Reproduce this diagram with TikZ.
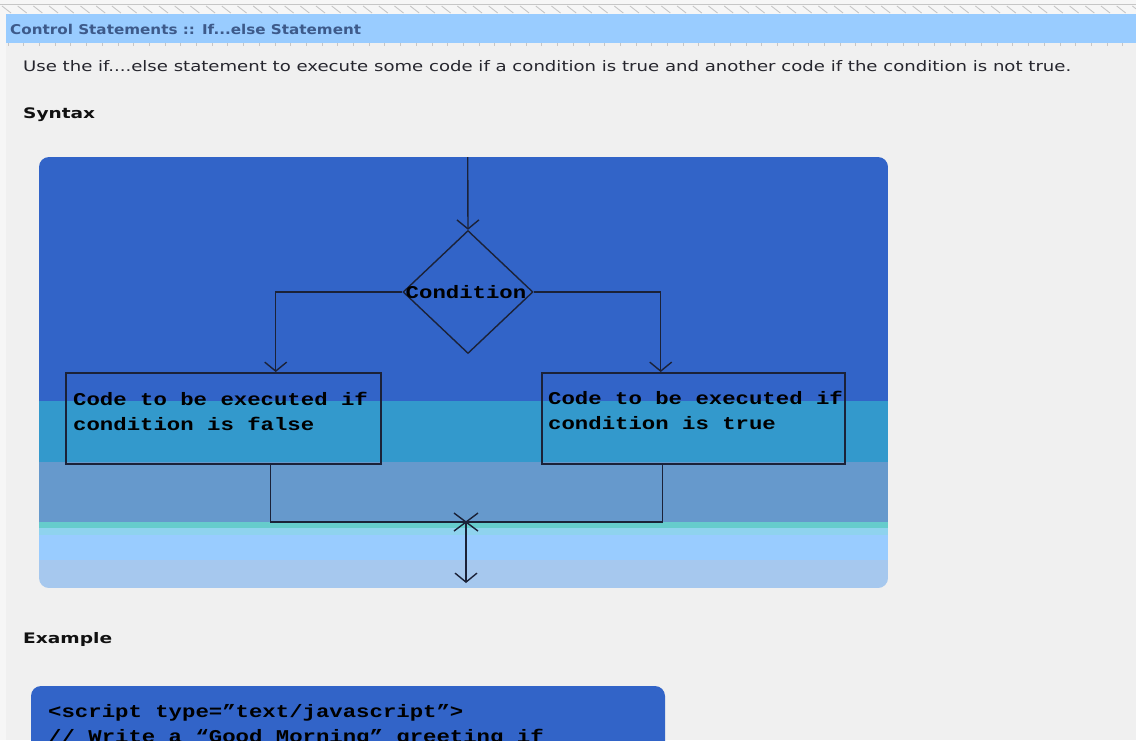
\documentclass[tikz,border=0pt]{standalone}
\usepackage{fontspec}
\usepackage{graphicx}
\setmainfont{DejaVu Sans}
\newfontfamily\codefont{Liberation Mono}
\usetikzlibrary{arrows.meta,shapes.geometric}

\definecolor{pagebg}{HTML}{F0F0F0}
\definecolor{stripbg}{HTML}{F6F6F6}
\definecolor{hatchc}{HTML}{C6C6C6}
\definecolor{barC}{HTML}{99CCFF}
\definecolor{barText}{HTML}{3D5A8A}
\definecolor{bodyText}{HTML}{26262E}
\definecolor{headText}{HTML}{111111}
\definecolor{bandA}{HTML}{3264C8}
\definecolor{bandB}{HTML}{3399CC}
\definecolor{bandC}{HTML}{6699CC}
\definecolor{bandD}{HTML}{66CCCC}
\definecolor{bandE}{HTML}{8FD3EE}
\definecolor{bandF}{HTML}{99CCFF}
\definecolor{bandG}{HTML}{A6C8EE}
\definecolor{inkC}{HTML}{1B2238}

% monospace text is set a little wider than the font's natural advance
\newcommand\mtxt[1]{\scalebox{1.24}[1]{#1}}
% sans text fitted to a given width
\newcommand\wtxt[2]{\resizebox{#1pt}{\height}{#2}}

\begin{document}
\begin{tikzpicture}[x=1pt,y=-1pt,
  flow/.style={draw=inkC,line width=1.4pt},
  tip/.style={-{Straight Barb[length=9pt,width=22pt,line width=1.4pt]}},
  codebox/.style={draw=inkC,line width=2pt,inner sep=0pt,minimum height=91pt},
  codetxt/.style={font=\codefont\bfseries\fontsize{18}{22}\selectfont,text=black,inner sep=0pt,anchor=base west},
  sanstxt/.style={text=bodyText,inner sep=0pt,anchor=base west,font=\fontsize{14.5}{17}\selectfont},
  headtxt/.style={text=headText,inner sep=0pt,anchor=base west,font=\bfseries\fontsize{14.5}{17}\selectfont}]

\useasboundingbox (0,0) rectangle (1136,740);
\clip (0,0) rectangle (1136,740);

% page background
\fill[pagebg] (0,0) rectangle (1136,740);
\fill[stripbg] (0,0) rectangle (6,740);

% hatched strip and title bar
\fill[stripbg] (0,0) rectangle (1136,14);
\draw[hatchc,line width=0.8pt] (0,4.5) -- (1136,4.5);
\foreach \i in {0,...,73}
  \draw[hatchc,line width=0.9pt] (\i*15.7+2,6) -- ++(9,7);
\fill[barC] (6,14) rectangle (1136,43);
\foreach \i in {0,...,73}
  \draw[hatchc,line width=0.7pt] (\i*15.7+8,43) -- ++(0,3);
\node[text=barText,inner sep=0pt,anchor=base west,font=\bfseries\fontsize{13.5}{16}\selectfont]
  (title) at (10,34) {\wtxt{351}{Control Statements :: If...else Statement}};

% introduction and section headings
\node[sanstxt] (intro) at (23,71)
  {\wtxt{1048}{Use the if....else statement to execute some code if a condition is true and another code if the condition is not true.}};
\node[headtxt] (syntax) at (23,118) {\wtxt{72}{Syntax}};
\node[headtxt] (example) at (23,643) {\wtxt{89}{Example}};

% syntax panel with its colour bands
\begin{scope}
  \clip[rounded corners=10pt] (39,157) rectangle (888,588);
  \fill[bandA] (39,157) rectangle (888,401);
  \fill[bandB] (39,401) rectangle (888,462);
  \fill[bandC] (39,462) rectangle (888,522);
  \fill[bandD] (39,522) rectangle (888,528);
  \fill[bandE] (39,528) rectangle (888,535);
  \fill[bandF] (39,535) rectangle (888,560);
  \fill[bandG] (39,560) rectangle (888,588);
\end{scope}

% flowchart
\node[diamond,draw=inkC,line width=1.4pt,minimum width=130pt,minimum height=123pt,inner sep=0pt]
  (cond) at (468,292) {};
\node[codetxt,anchor=base] (condtxt) at (466,298) {\mtxt{Condition}};

\node[codebox,minimum width=315pt] (lbox) at (223.5,418.5) {};
\node[codebox,minimum width=303pt] (rbox) at (693.5,418.5) {};

\node[codetxt] (l1) at (73,405) {\mtxt{Code to be executed if}};
\node[codetxt] (l2) at (73,430) {\mtxt{condition is false}};
\node[codetxt] (r1) at (548,404) {\mtxt{Code to be executed if}};
\node[codetxt] (r2) at (548,429) {\mtxt{condition is true}};

\coordinate (entry) at (467.7,157);
\coordinate (merge) at (466,522);
\coordinate (exit) at (466,583);

\draw[flow,tip] (entry) -- (cond.north);
\draw[flow,tip] (cond.west) -| ([xshift=52.2pt]lbox.north);
\draw[flow,tip] (cond.east) -| ([xshift=-32.8pt]rbox.north);
\draw[flow] ([xshift=47.2pt]lbox.south) |- (merge) -| ([xshift=-30.8pt]rbox.south);
\draw[flow,tip] (merge) -- (exit);
\draw[flow] ([xshift=-12pt,yshift=9pt]merge) -- ([xshift=12pt,yshift=-9pt]merge);
\draw[flow] ([xshift=-12pt,yshift=-9pt]merge) -- ([xshift=12pt,yshift=9pt]merge);

% example code panel
\fill[bandA,rounded corners=10pt] (31,686) rectangle (665,790);
\node[codetxt] (code1) at (48,717) {\mtxt{<script type=”text/javascript”>}};
\node[codetxt] (code2) at (48,742) {\mtxt{// Write a “Good Morning” greeting if}};
\end{tikzpicture}
\end{document}
